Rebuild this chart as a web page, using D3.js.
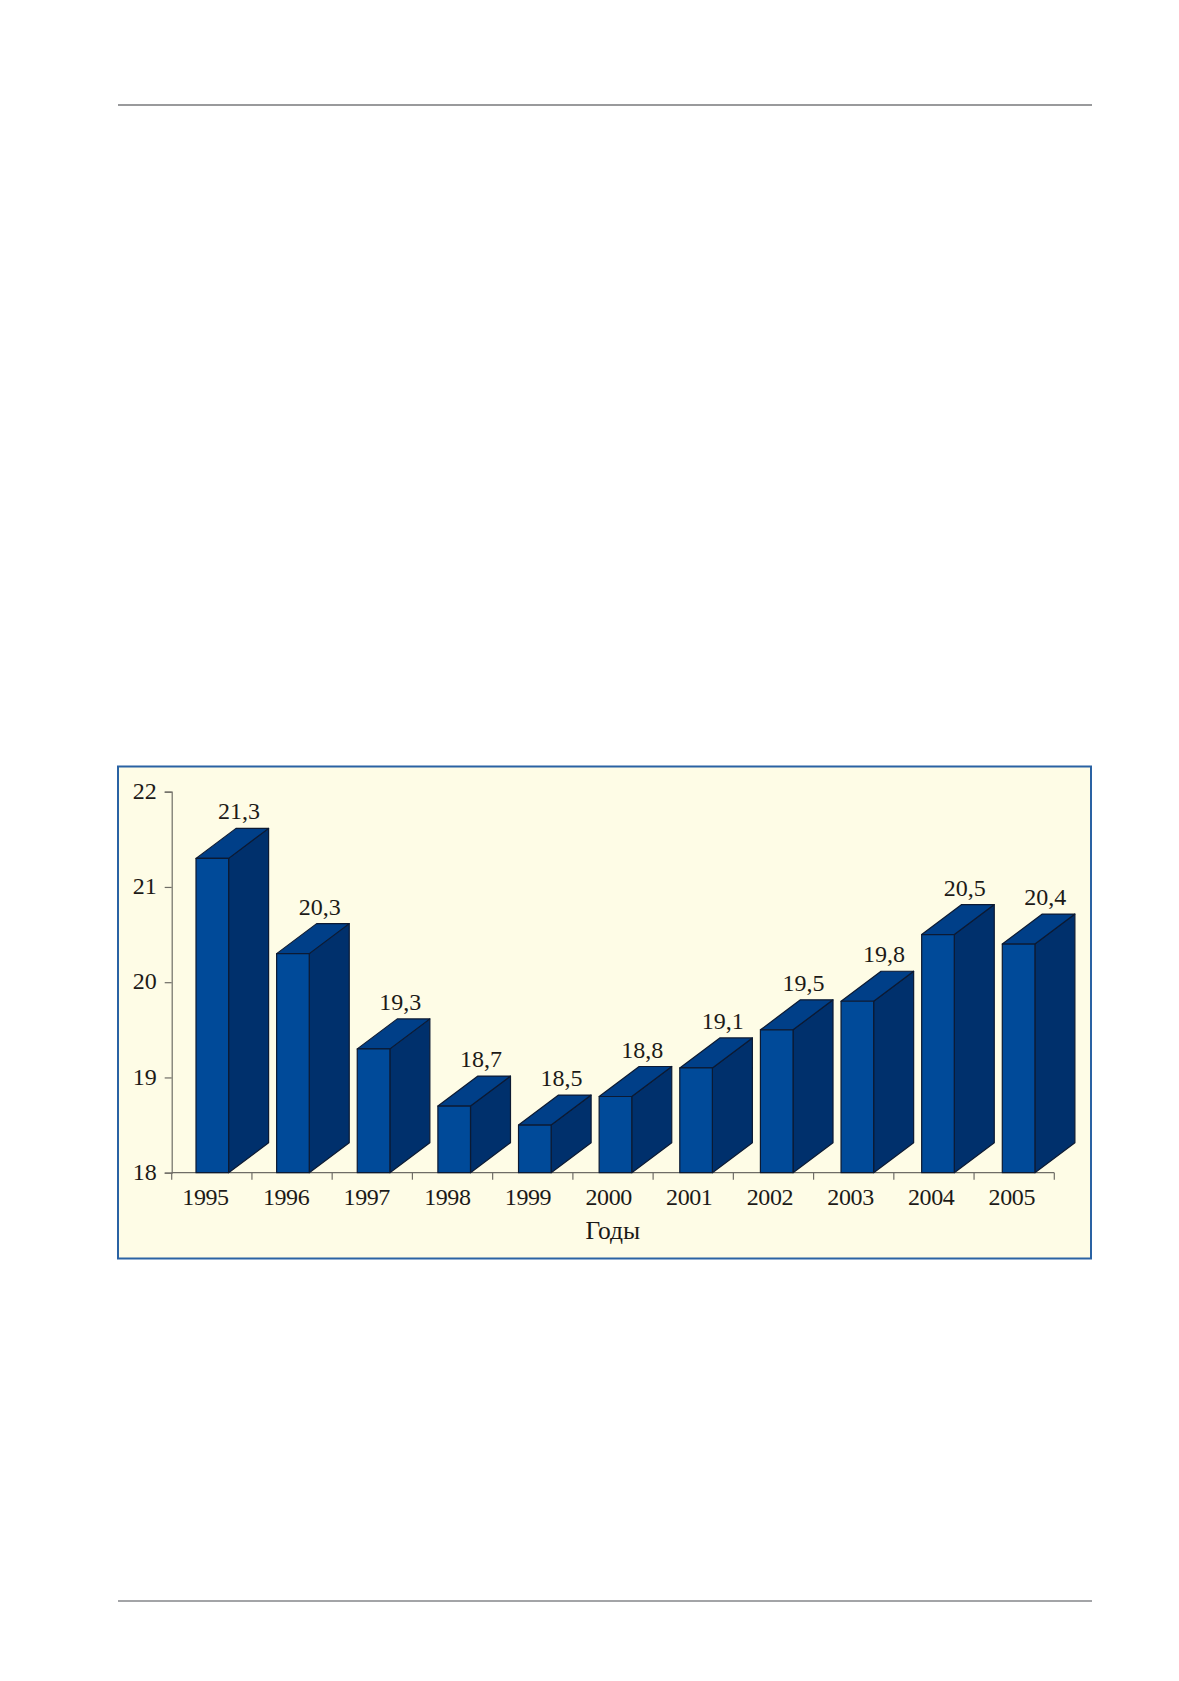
<!DOCTYPE html>
<html>
<head>
<meta charset="utf-8">
<script src="https://cdn.jsdelivr.net/npm/d3@7"></script>
<style>
  body { margin: 0; background: #fff; }
  text { font-family: "Liberation Serif", serif; fill: #1c1a17; }
</style>
</head>
<body>
<svg width="1179" height="1681"></svg>
<script>
// Values
var years = ["1995", "1996", "1997", "1998", "1999", "2000", "2001", "2002", "2003", "2004", "2005"];
var values = [21.3, 20.3, 19.3, 18.7, 18.5, 18.8, 19.1, 19.5, 19.8, 20.5, 20.4];
var yTicks = [18, 19, 20, 21, 22];

var svg = d3.select("svg");

// Page rules
svg.append("line").attr("x1", 118).attr("x2", 1092).attr("y1", 105).attr("y2", 105)
  .attr("stroke", "#77787b").attr("stroke-width", 1.6);
svg.append("line").attr("x1", 118).attr("x2", 1092).attr("y1", 1601).attr("y2", 1601)
  .attr("stroke", "#85868a").attr("stroke-width", 1.6);

// Frame
svg.append("rect").attr("x", 118).attr("y", 766.5).attr("width", 973).attr("height", 492)
  .attr("fill", "#fefce6").attr("stroke", "#2a62a3").attr("stroke-width", 2);

// The ticks and the bars are not quite on the same step in the original
var tickX = d3.scaleBand().domain(years).range([171.7, 1054.3]);
var x = d3.scalePoint().domain(years).range([196, 1002.3]);
var y = d3.scaleLinear().domain([18, 22]).range([1172.7, 791.7]);

var barW = 32.6, depthX = 40, depthY = 30;

// Axes
svg.append("line")
  .attr("x1", tickX.range()[0]).attr("x2", tickX.range()[1])
  .attr("y1", y(18)).attr("y2", y(18))
  .attr("stroke", "#6f6d66").attr("stroke-width", 1.2);
svg.append("g").selectAll("line")
  .data(years.concat(["end"]))
  .enter().append("line")
  .attr("x1", (d, i) => tickX.range()[0] + i * tickX.step())
  .attr("x2", (d, i) => tickX.range()[0] + i * tickX.step())
  .attr("y1", y(18)).attr("y2", y(18) + 7)
  .attr("stroke", "#6f6d66").attr("stroke-width", 1.2);

var yAxis = svg.append("g").attr("transform", "translate(" + tickX.range()[0] + ",0)")
  .call(d3.axisLeft(y).tickValues(yTicks).tickSize(7).tickPadding(8).tickFormat(d3.format("d")));
yAxis.selectAll("line, path").attr("stroke", "#6f6d66").attr("stroke-width", 1.2);
yAxis.selectAll("text").attr("font-size", 24).attr("dy", "0.28em")
  .style("font-family", '"Liberation Serif", serif').attr("fill", "#1c1a17");

// Bars: side, top and front faces
var bars = svg.append("g").selectAll("g")
  .data(years.map((d, i) => ({ year: d, value: values[i] })))
  .enter().append("g")
  .attr("stroke", "#0c1a33").attr("stroke-width", 1.2).attr("stroke-linejoin", "round");

bars.append("polygon").attr("fill", "#00306c")
  .attr("points", function (d) {
    var r = x(d.year) + barW, t = y(d.value), b = y(18);
    return [[r, t], [r + depthX, t - depthY], [r + depthX, b - depthY], [r, b]].join(" ");
  });
bars.append("polygon").attr("fill", "#003f88")
  .attr("points", function (d) {
    var l = x(d.year), t = y(d.value);
    return [[l, t], [l + depthX, t - depthY], [l + barW + depthX, t - depthY], [l + barW, t]].join(" ");
  });
bars.append("rect").attr("fill", "#004a99")
  .attr("x", (d) => x(d.year))
  .attr("y", (d) => y(d.value))
  .attr("width", barW)
  .attr("height", (d) => y(18) - y(d.value));

// Value labels
bars.append("text")
  .attr("x", (d) => x(d.year) + 43)
  .attr("y", (d) => y(d.value) - depthY - 9)
  .attr("text-anchor", "middle").attr("font-size", 24).attr("stroke", "none")
  .text((d) => d.value.toFixed(1).replace(".", ","));

// Category labels
svg.append("g").selectAll("text")
  .data(years)
  .enter().append("text")
  .attr("x", (d) => x(d) + barW / 2 - 6.8)
  .attr("y", 1205)
  .attr("text-anchor", "middle").attr("font-size", 24).attr("letter-spacing", -0.4)
  .text((d) => d);

svg.append("text").attr("x", 612.8).attr("y", 1239)
  .attr("text-anchor", "middle").attr("font-size", 25.5).text("Годы");
</script>
</body>
</html>
